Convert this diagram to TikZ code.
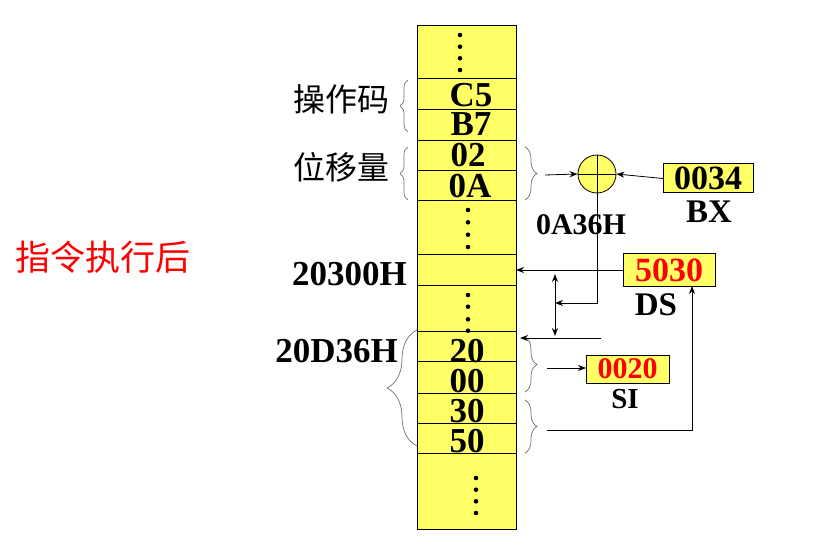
\documentclass[tikz,border=0pt]{standalone}
\usepackage{fontspec}
\setmainfont{Liberation Serif}
\newfontfamily\cjk{Noto Sans CJK SC}
\usetikzlibrary{arrows.meta,decorations.pathreplacing}
\definecolor{memyellow}{RGB}{255,255,102}
\definecolor{bracegray}{RGB}{110,110,110}
\definecolor{hotred}{RGB}{255,0,0}
\begin{document}
\begin{tikzpicture}[x=1pt,y=-1pt,
 cell/.style={draw=black,fill=memyellow,line width=1pt,minimum width=99pt,inner sep=0pt,outer sep=0pt},
 val/.style={font=\fontsize{35}{35}\selectfont\bfseries,anchor=base,inner sep=0pt},
 lbl/.style={font=\fontsize{35}{35}\selectfont\bfseries,anchor=base,inner sep=0pt},
 cjklbl/.style={font=\cjk\fontsize{32}{32}\selectfont,inner sep=0pt},
 regbox/.style={draw=black,fill=memyellow,line width=1pt,inner sep=0pt,outer sep=0pt,font=\fontsize{34}{34}\selectfont\bfseries},
 arr/.style={-{Stealth[length=8pt,width=6pt]},line width=0.8pt},
 dblarr/.style={{Stealth[length=8pt,width=6pt]}-{Stealth[length=8pt,width=6pt]},line width=0.8pt},
 plain/.style={line width=0.8pt},
 brc/.style={draw=bracegray,line width=0.7pt,decorate,decoration={brace,amplitude=#1}},
 dotmark/.style={fill=black}]
\useasboundingbox (0,0) rectangle (832,545);

% memory cells
\node[cell,minimum height=53pt] (m1) at (466.5,52.5) {};
\node[cell,minimum height=31pt] (m2) at (466.5,94.5) {};
\node[cell,minimum height=31pt] (m3) at (466.5,125.5) {};
\node[cell,minimum height=30pt] (m4) at (466.5,156) {};
\node[cell,minimum height=30pt] (m5) at (466.5,186) {};
\node[cell,minimum height=54pt] (m6) at (466.5,228) {};
\node[cell,minimum height=30pt] (m7) at (466.5,270) {};
\node[cell,minimum height=46pt] (m8) at (466.5,308) {};
\node[cell,minimum height=30pt] (m9) at (466.5,346) {};
\node[cell,minimum height=32pt] (m10) at (466.5,377) {};
\node[cell,minimum height=30pt] (m11) at (466.5,408) {};
\node[cell,minimum height=30pt] (m12) at (466.5,438) {};
\node[cell,minimum height=76pt] (m13) at (466.5,491) {};

% dots
\foreach \y in {35,46.7,58.3,70} \fill[dotmark] (460,\y) circle (2.3pt);
\foreach \y in {210,222.3,234.7,247} \fill[dotmark] (468,\y) circle (2.3pt);
\foreach \y in {295,306.7,319.3,330.7} \fill[dotmark] (468,\y) circle (2.3pt);
\foreach \y in {478,489.7,501.3,513} \fill[dotmark] (476,\y) circle (2.3pt);

% cell values
\node[val] (vC5) at (471,107) {C5};
\node[val] (vB7) at (471,136) {B7};
\node[val] (v02) at (468,167) {02};
\node[val] (v0A) at (470,198) {0A};
\node[val] (v20) at (467,362) {20};
\node[val] (v00) at (467,392) {00};
\node[val] (v30) at (467,422) {30};
\node[val] (v50) at (467,452) {50};

% left labels
\node[cjklbl] (opcode) at (341,99) {操作码};
\node[cjklbl] (disp) at (341,167) {位移量};
\node[cjklbl,text=hotred,font=\cjk\fontsize{35}{35}\selectfont] (after) at (103,257) {指令执行后};
\node[lbl,anchor=base east] (a20300) at (407,285) {20300H};
\node[lbl,anchor=base east] (a20D36) at (398,362) {20D36H};

% braces
\draw[brc=8pt] (408,132) -- (408,80);
\draw[brc=8pt] (408,200) -- (408,147);
\draw[brc=30pt] (417,446) -- (417,330);
\draw[brc=12pt] (525,147) -- (525,200);
\draw[brc=12pt] (525,337) -- (525,392);
\draw[brc=12pt] (525,400) -- (525,453);

% adder
\node[circle,draw=black,fill=memyellow,line width=0.8pt,minimum size=38pt,inner sep=0pt] (adder) at (597,174) {};
\draw[plain] (adder.north) -- (adder.south);
\draw[plain] (adder.west) -- (adder.east);

% registers
\node[regbox,minimum width=90pt,minimum height=29pt] (bx) at (708,178.5) {0034};
\node[lbl,font=\fontsize{33}{33}\selectfont\bfseries] (bxl) at (709,223) {BX};
\node[regbox,minimum width=92pt,minimum height=32pt,text=hotred] (ds) at (669,270) {5030};
\node[lbl,font=\fontsize{33}{33}\selectfont\bfseries] (dsl) at (656,315) {DS};
\node[regbox,minimum width=83pt,minimum height=28pt,text=hotred,font=\fontsize{30}{30}\selectfont\bfseries] (si) at (627.5,369) {0020};
\node[lbl,font=\fontsize{29}{29}\selectfont\bfseries] (sil) at (625,408) {SI};
\node[lbl,font=\fontsize{30}{30}\selectfont\bfseries] (ea) at (581,235) {0A36H};

% connectors
\coordinate (b1) at (545,175);
\draw[arr] (b1) -- (adder.west);
\draw[arr] (bx.west) -- (adder.east);
\coordinate (j1) at (adder.south |- 0,303);
\coordinate (j2) at (555,303);
\draw[arr] (adder.south) -- (j1) -- (j2);
\draw[arr] (ds.west) -- (m7.east);
\coordinate (d1) at (555,274);
\coordinate (d2) at (555,336);
\draw[dblarr] (d1) -- (d2);
\coordinate (h1) at (601,338);
\coordinate (h2) at (520,338);
\draw[arr] (h1) -- (h2);
\coordinate (s1) at (547,368);
\draw[arr] (s1) -- (si.west |- s1);
\coordinate (p1) at (547,430);
\coordinate (p2) at (692,430);
\draw[arr] (p1) -- (p2) -- (p2 |- ds.south);
\end{tikzpicture}
\end{document}
